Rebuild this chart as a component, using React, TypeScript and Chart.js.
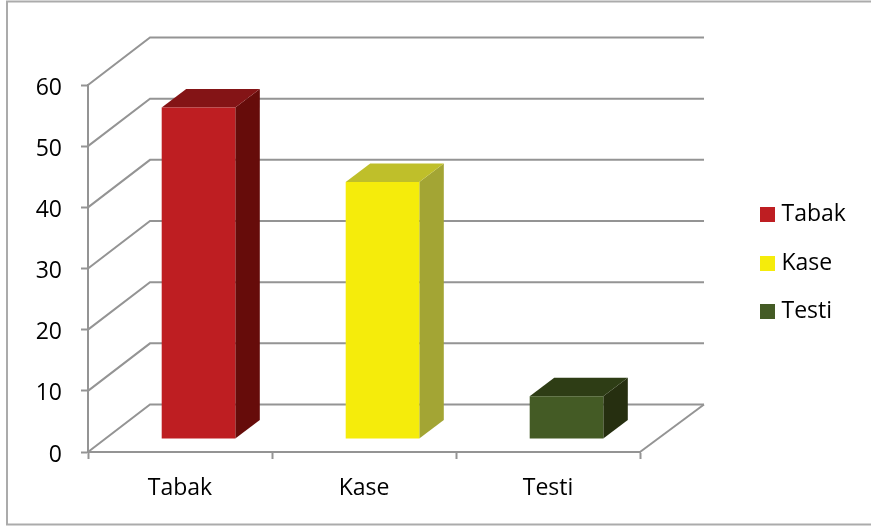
import React, { useEffect, useRef } from "react";
import { Chart, registerables } from "chart.js";

Chart.register(...registerables);

const categories = ["Tabak", "Kase", "Testi"];
const values = [54.2, 42, 7];
const yTicksMax = 60;
const frontColors = ["#BE1E22", "#F5EC0B", "#445B25"];
const topColors = ["#841416", "#BFBF2A", "#2E3D15"];
const sideColors = ["#660C0A", "#A3A534", "#262F10"];

const GRID = "#949494";
const FONT = "'Open Sans'";
const WALL_DX = 62;
const WALL_DY = -47.5;
const BAR_DX = 18.5;
const BAR_DY = -13;
const BOX_DX = 24.5;
const BOX_DY = -18.5;

function swatch(color: string) {
  const c = document.createElement("canvas");
  c.width = 15;
  c.height = 15;
  const g = c.getContext("2d") as CanvasRenderingContext2D;
  g.fillStyle = color;
  g.fillRect(0, 0, 15, 15);
  return c;
}

const depthPlugin = {
  id: "depth",
  beforeDraw(chart: any) {
    const { ctx, width, height } = chart;
    ctx.save();
    ctx.strokeStyle = "#ABABAB";
    ctx.lineWidth = 2;
    ctx.strokeRect(7, 1.5, width + 5, height - 4);
    ctx.restore();
  },
  afterLayout(chart: any) {
    const legend = chart.legend;
    legend.left = 738.5;
    legend.right = 871;
    legend.top = 1;
    legend.bottom = 525;
  },
  beforeDatasetsDraw(chart: any) {
    const { ctx, scales } = chart;
    const { x, y } = scales;
    const left = x.left;
    const right = x.right;
    ctx.save();
    ctx.strokeStyle = GRID;
    ctx.lineWidth = 2;
    y.ticks.forEach((t: any) => {
      const py = y.getPixelForValue(t.value);
      ctx.beginPath();
      ctx.moveTo(left, py);
      ctx.lineTo(left + WALL_DX, py + WALL_DY);
      ctx.lineTo(right + WALL_DX + 2, py + WALL_DY);
      ctx.stroke();
    });
    const y0 = y.getPixelForValue(0);
    ctx.beginPath();
    ctx.moveTo(right, y0);
    ctx.lineTo(right + WALL_DX + 2, y0 + WALL_DY);
    ctx.stroke();
    ctx.restore();

    ctx.save();
    ctx.translate(BAR_DX, BAR_DY);
    chart.getDatasetMeta(0).data.forEach((bar: any, i: number) => {
      const l = bar.x - bar.width / 2;
      const r = bar.x + bar.width / 2;
      const t = bar.y;
      const b = bar.base;
      ctx.fillStyle = sideColors[i];
      ctx.beginPath();
      ctx.moveTo(r, t);
      ctx.lineTo(r + BOX_DX, t + BOX_DY);
      ctx.lineTo(r + BOX_DX, b + BOX_DY);
      ctx.lineTo(r, b);
      ctx.closePath();
      ctx.fill();
      ctx.fillStyle = topColors[i];
      ctx.beginPath();
      ctx.moveTo(l, t);
      ctx.lineTo(l + BOX_DX, t + BOX_DY);
      ctx.lineTo(r + BOX_DX, t + BOX_DY);
      ctx.lineTo(r, t);
      ctx.closePath();
      ctx.fill();
    });
  },
  afterDatasetsDraw(chart: any) {
    chart.ctx.restore();
  },
};

export default function App() {
  const ref = useRef<HTMLCanvasElement>(null);
  useEffect(() => {
    const chart = new Chart(ref.current as HTMLCanvasElement, {
      type: "bar",
      data: {
        labels: categories,
        datasets: [
          {
            data: values,
            backgroundColor: frontColors,
            barPercentage: 1,
            categoryPercentage: 0.4,
          },
        ],
      },
      plugins: [depthPlugin],
      options: {
        responsive: false,
        animation: false,
        layout: { padding: { top: 85, left: 0, right: 131, bottom: 0 } },
        plugins: {
          title: { display: false },
          tooltip: { enabled: false },
          legend: {
            position: "right",
            maxWidth: 100,
            labels: {
              usePointStyle: true,
              pointStyleWidth: 6,
              boxHeight: 15,
              padding: 25.5,
              color: "#000",
              font: { family: FONT, size: 23 },
              generateLabels: () =>
                categories.map((c, i) => ({
                  text: c,
                  fillStyle: frontColors[i],
                  strokeStyle: frontColors[i],
                  pointStyle: swatch(frontColors[i]),
                  lineWidth: 0,
                  index: i,
                })),
            },
          },
        },
        scales: {
          x: {
            afterFit: (s: any) => {
              s.height = 75;
            },
            grid: {
              drawOnChartArea: false,
              tickColor: GRID,
              tickWidth: 2,
              tickLength: 7,
            },
            border: { color: GRID, width: 2 },
            ticks: {
              color: "#000",
              padding: 16,
              maxRotation: 0,
              font: { family: FONT, size: 23 },
            },
          },
          y: {
            min: 0,
            max: yTicksMax,
            afterFit: (s: any) => {
              s.width = 88;
            },
            grid: {
              drawOnChartArea: false,
              tickColor: GRID,
              tickWidth: 2,
              tickLength: 7,
            },
            border: { color: GRID, width: 2 },
            ticks: {
              stepSize: 10,
              color: "#000",
              padding: 19,
              labelOffset: 3,
              font: { family: FONT, size: 23 },
            },
          },
        },
      },
    } as any);
    return () => chart.destroy();
  }, []);
  return (
    <canvas
      ref={ref}
      width={871}
      height={527}
      style={{ position: "absolute", left: 0, top: 0, width: 871, height: 527 }}
    />
  );
}
